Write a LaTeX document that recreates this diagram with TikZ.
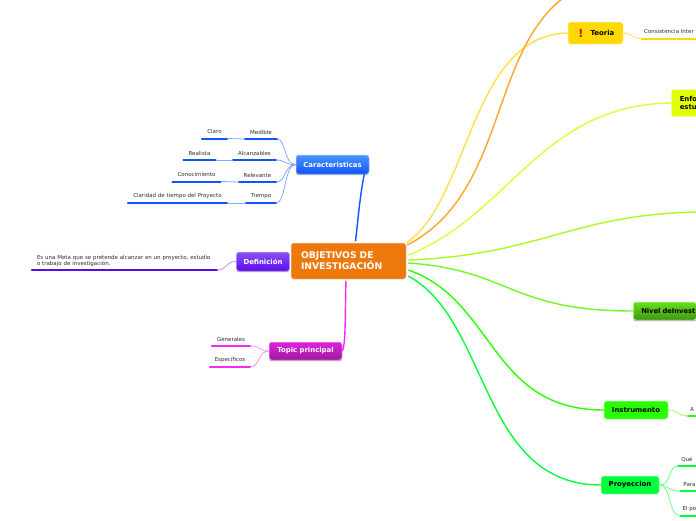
\documentclass[tikz,border=0pt]{standalone}
\usepackage{fontspec}
\setmainfont{DejaVu Sans}
\usetikzlibrary{calc,shadows}
\definecolor{rootc}{RGB}{237,120,12}
\definecolor{bluec}{RGB}{15,85,255}
\definecolor{bluel}{RGB}{130,170,255}
\definecolor{violc}{RGB}{90,10,240}
\definecolor{violl}{RGB}{185,150,255}
\definecolor{magc}{RGB}{245,40,245}
\definecolor{magl}{RGB}{250,150,250}
\definecolor{yelc}{RGB}{255,217,0}
\definecolor{yell}{RGB}{255,225,70}
\definecolor{oranc}{RGB}{255,165,40}
\definecolor{limec}{RGB}{224,255,0}
\definecolor{limel}{RGB}{225,250,60}
\definecolor{chartc}{RGB}{175,250,30}
\definecolor{nivc}{RGB}{110,250,30}
\definecolor{grnc}{RGB}{40,255,0}
\definecolor{prc}{RGB}{0,255,60}
\definecolor{prl}{RGB}{120,255,140}
\definecolor{leaft}{RGB}{45,45,45}
\tikzset{
  topbox/.style={rounded corners=2.5pt, draw=white!70!#1, line width=.5pt, inner sep=0pt, font=\fontsize{6.9}{8.4}\selectfont\bfseries},
  shadowbox/.style={drop shadow={shadow xshift=0pt, shadow yshift=-1.2pt, opacity=.35, fill=black}},
  leaf/.style={inner sep=0pt, anchor=south, minimum height=13, text=leaft, font=\fontsize{5.5}{6.5}\selectfont},
  branch/.style={line width=1.4pt, #1},
  twig/.style={line width=.8pt, #1},
  uline/.style={line width=2pt, line cap=round, #1},
}
\begin{document}
\begin{tikzpicture}[x=1pt,y=-1pt]
\useasboundingbox (0,0) rectangle (696,520);
\fill[white] (0,0) rectangle (696,520);
% Central topic
\node[topbox=rootc, fill=rootc, minimum width=115, minimum height=36, text=white, align=left, text width=95, font=\fontsize{9.2}{11}\selectfont\bfseries] (root) at (348.5,261) {OBJETIVOS DE\\INVESTIGACIÓN};
% Main topics
\node[topbox=bluec, shadowbox, top color=blue!60!cyan!70!white, bottom color=bluec, minimum width=73, minimum height=19, text=white] (carac) at (332.5,164.5) {Caracteristicas};
\node[topbox=violc, shadowbox, top color=violc!70!white, bottom color=violc, minimum width=53, minimum height=19, text=white] (defin) at (263,261.5) {Definición};
\node[topbox=magc, shadowbox, top color=magc!90!black, bottom color=magc!65!black, minimum width=73, minimum height=18, text=white] (topic) at (305.5,351) {Topic principal};
\node[topbox=yelc, fill=yelc, minimum width=55, minimum height=22] (teoria) at (595.5,33) {\hspace{14pt}Teoria};
\node[inner sep=0pt, text=red!85!black, font=\fontsize{11}{11}\selectfont\bfseries] (warn) at (581,33) {!};
\node[topbox=limec, fill=limec, minimum width=30, minimum height=27, anchor=west, align=left, text width=27] (enfo) at (671,103) {\hspace{7pt}Enfo\\\hspace{7pt}estu};
\node[topbox=nivc, shadowbox, top color=nivc!90!black, bottom color=nivc!60!black, minimum width=63, minimum height=18, anchor=west, align=left, text width=63, font=\fontsize{6.7}{8.4}\selectfont\bfseries] (nivel) at (633,311) {\hspace{8pt}\mbox{Nivel deInvest}};
\node[topbox=grnc, fill=grnc, minimum width=64, minimum height=18] (instr) at (636,410) {Instrumento};
\node[topbox=prc, fill=prc, minimum width=58, minimum height=18] (proye) at (630,485) {Proyeccion};
% Leaves
\node[leaf, minimum width=32] (medible) at (261,139) {Medible};
\node[leaf, minimum width=25] (claro) at (214.5,138.5) {Claro};
\node[leaf, minimum width=43] (alcanz) at (254.5,160) {Alcanzables};
\node[leaf, minimum width=32] (realista) at (199.5,160) {Realista};
\node[leaf, minimum width=37] (relev) at (257.5,182) {Relevante};
\node[leaf, minimum width=48] (conoc) at (196.5,181.5) {Conocimiento};
\node[leaf, minimum width=30] (tiempo) at (261,203) {Tiempo};
\node[leaf, minimum width=99] (clarid) at (177.5,203) {Claridad de tiempo del Proyecto};
\node[leaf, minimum width=185, minimum height=18, align=left, text width=175] (meta) at (124.5,270) {Es una Meta que se pretende alcanzar en un proyecto, estudio\\o trabajo de investigación.};
\node[leaf, minimum width=38] (gener) at (231,346) {Generales};
\node[leaf, minimum width=40] (espec) at (230,367) {Específicos};
\node[leaf, minimum width=54] (consis) at (669,38.5) {Consistencia Inter};
\node[leaf, minimum width=8] (aleaf) at (692,416) {A};
\node[leaf, minimum width=18] (que) at (687,466) {Qué};
\node[leaf, minimum width=18] (para) at (689.5,491) {Para};
\node[leaf, minimum width=18] (elpo) at (689.5,516) {El po};
% Thick underlines
\foreach \n/\c in {medible/bluec,claro/bluec,alcanz/bluec,realista/bluec,relev/bluec,conoc/bluec,tiempo/bluec,clarid/bluec,meta/violc,gener/magc,espec/magc,consis/yelc,aleaf/grnc,que/prc,para/prc,elpo/prc} {
  \draw[uline=\c] (\n.south west) -- (\n.south east);
}
% Branches out of the central topic
\coordinate (offa) at (562,-1);
\coordinate (offb) at (696,212);
\draw[branch=magc] (topic.east) .. controls (346,345) and (345,310) .. ([xshift=-2.5pt,yshift=-1.5pt]root.south);
\draw[branch=bluec] (carac.south east) ++(-5,0) .. controls (360,195) and (358,220) .. ([xshift=7pt,yshift=1.5pt]root.north);
\draw[twig=violl] (defin.west) .. controls (226,261) and (227,270) .. (meta.south east);
\draw[branch=yell] ([shift={(0,-18)}]root.east) .. controls (470,200) and (470,35) .. (teoria.west);
\draw[branch=oranc] ([shift={(1,-16)}]root.east) .. controls (505,195) and (490,55) .. (offa);
\draw[branch=limel] ([shift={(2,-6)}]root.east) .. controls (510,215) and (540,105) .. (enfo.west);
\draw[branch=chartc] ([shift={(2,-1)}]root.east) .. controls (540,255) and (570,215) .. (offb);
\draw[branch=nivc] ([shift={(2,2)}]root.east) .. controls (510,270) and (510,311) .. (nivel.west);
\draw[branch=grnc] ([shift={(2,9)}]root.east) .. controls (495,300) and (490,410) .. (instr.west);
\draw[branch=prc] ([shift={(2,15)}]root.east) .. controls (490,320) and (480,485) .. (proye.west);
% Twigs
\foreach \n in {medible,alcanz,relev,tiempo} {
  \draw[twig=bluel] (carac.west) .. controls (284,165) and (286,0 |- \n.south east) .. (\n.south east);
}
\draw[twig=bluel] (medible.south west) -- (claro.south east);
\draw[twig=bluel] (alcanz.south west) -- (realista.south east);
\draw[twig=bluel] (relev.south west) -- (conoc.south east);
\draw[twig=bluel] (tiempo.south west) -- (clarid.south east);
\draw[twig=magl] (topic.west) .. controls (259,351) and (262,346) .. (gener.south east);
\draw[twig=magl] (topic.west) .. controls (258,351) and (260,367) .. (espec.south east);
\draw[twig=yell] (teoria.east) .. controls (634,33) and (630,38.5) .. (consis.south west);
\draw[twig=nivc!60!white] (instr.east) .. controls (680,410) and (676,416) .. (aleaf.south west);
\draw[twig=prl] (proye.east) .. controls (672,485) and (668,466) .. (que.south west);
\draw[twig=prl] (proye.east) .. controls (668,485) and (668,491) .. (para.south west);
\draw[twig=prl] (proye.east) .. controls (672,485) and (668,516) .. (elpo.south west);
\end{tikzpicture}
\end{document}
